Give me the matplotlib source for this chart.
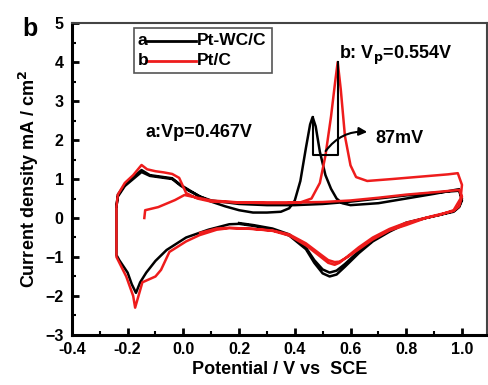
import matplotlib
matplotlib.use("Agg")
import matplotlib.pyplot as plt
from matplotlib.lines import Line2D
from matplotlib.patches import Rectangle
from matplotlib.ticker import MultipleLocator

plt.rcParams['font.family'] = ['Liberation Sans', 'DejaVu Sans']
plt.rcParams['font.weight'] = 'bold'

# Pt-WC/C (black) CV, potential (V vs SCE) and current density (mA/cm2)
black_E = [-0.24, -0.235, -0.21, -0.18, -0.15, -0.12, -0.08, -0.04, -0.01, 0.02, 0.06, 0.1, 0.15, 0.2, 0.25,
           0.3, 0.35, 0.38, 0.4, 0.42, 0.44, 0.455, 0.464, 0.475, 0.49, 0.51, 0.53, 0.55, 0.57, 0.6, 0.7, 0.8,
           0.9, 0.99, 1.0, 0.99, 0.97, 0.92, 0.87, 0.8, 0.74, 0.68, 0.63, 0.58, 0.55, 0.525, 0.5, 0.47, 0.44,
           0.38, 0.32, 0.25, 0.2, 0.165, 0.09, 0.01, -0.06, -0.1, -0.133, -0.155, -0.17, -0.185, -0.2, -0.23,
           -0.24, -0.24, -0.235, -0.21, -0.18, -0.15, -0.12, -0.08, -0.04, -0.01, 0.02, 0.06, 0.1, 0.2, 0.3,
           0.4, 0.5, 0.6, 0.7, 0.8, 0.9, 0.99, 1.0, 0.99, 0.97, 0.9, 0.8, 0.74, 0.68, 0.63, 0.58, 0.55, 0.525,
           0.5, 0.47, 0.44, 0.38, 0.32, 0.25, 0.2]
black_j = [0.3, 0.6, 0.85, 1.05, 1.23, 1.1, 1.06, 1.02, 0.85, 0.72, 0.55, 0.42, 0.3, 0.2, 0.14,
           0.14, 0.16, 0.25, 0.45, 0.95, 1.8, 2.4, 2.59, 2.35, 1.7, 1.1, 0.75, 0.5, 0.38, 0.33, 0.38, 0.5,
           0.62, 0.74, 0.5, 0.3, 0.18, 0.08, 0.0, -0.14, -0.35, -0.6, -0.9, -1.25, -1.45, -1.5, -1.42, -1.15, -0.8,
           -0.45, -0.3, -0.2, -0.15, -0.16, -0.3, -0.5, -0.82, -1.1, -1.4, -1.65, -1.92, -1.7, -1.4, -1.08,
           -0.95, 0.3, 0.55, 0.82, 1.0, 1.18, 1.08, 1.04, 1.0, 0.83, 0.7, 0.55, 0.45, 0.36, 0.33,
           0.33, 0.36, 0.42, 0.5, 0.58, 0.65, 0.7, 0.45, 0.28, 0.16, 0.05, -0.12, -0.32, -0.57, -0.85, -1.18, -1.35, -1.4,
           -1.32, -1.08, -0.76, -0.42, -0.27, -0.18, -0.13]

# Pt/C (red) CV
red_E = [-0.14, -0.137, -0.09, -0.03, 0.004, 0.03, 0.1, 0.2, 0.3, 0.37, 0.42, 0.46, 0.49, 0.51, 0.53, 0.545,
         0.554, 0.565, 0.58, 0.6, 0.62, 0.66, 0.75, 0.85, 0.95, 0.985, 1.0, 0.995, 0.97, 0.92, 0.87, 0.8,
         0.74, 0.68, 0.63, 0.59, 0.56, 0.543, 0.52, 0.49, 0.44, 0.38, 0.32, 0.25, 0.165, 0.12, 0.058, 0.01,
         -0.05, -0.08, -0.1, -0.147, -0.173, -0.18, -0.205, -0.24, -0.24, -0.24, -0.235, -0.21, -0.18, -0.15,
         -0.13, -0.1, -0.07, -0.04, -0.015, 0.01, 0.05, 0.1, 0.2, 0.3, 0.4, 0.5, 0.6, 0.7, 0.8, 0.9, 0.99, 1.0,
         0.99, 0.97, 0.9, 0.8, 0.74, 0.68, 0.63, 0.59, 0.56, 0.543, 0.52, 0.49, 0.44, 0.38, 0.32, 0.25, 0.165,
         0.12, 0.06]
red_j = [0.0, 0.2, 0.28, 0.46, 0.59, 0.55, 0.45, 0.4, 0.38, 0.38, 0.4, 0.5, 0.9, 1.6, 2.6, 3.5,
         4.0, 3.3, 2.1, 1.35, 1.05, 0.95, 1.0, 1.06, 1.12, 1.15, 0.85, 0.5, 0.2, 0.08, 0.0, -0.18,
         -0.32, -0.55, -0.8, -1.0, -1.12, -1.13, -1.08, -0.92, -0.65, -0.42, -0.32, -0.28, -0.26, -0.3, -0.44, -0.6,
         -0.87, -1.33, -1.5, -1.65, -2.3, -2.0, -1.5, -1.0, 0.0, 0.3, 0.6, 0.9, 1.1, 1.36,
         1.25, 1.2, 1.17, 1.13, 1.03, 0.64, 0.5, 0.42, 0.4, 0.4, 0.4, 0.41, 0.45, 0.52, 0.6, 0.66, 0.72, 0.55,
         0.3, 0.18, 0.06, -0.12, -0.28, -0.5, -0.75, -0.98, -1.15, -1.2, -1.15, -0.98, -0.7, -0.45, -0.33, -0.28, -0.25,
         -0.27, -0.38]

xticks = [-0.4, -0.2, 0.0, 0.2, 0.4, 0.6, 0.8, 1.0]
xticklabels = ['-0.4', '-0.2', '0.0', '0.2', '0.4', '0.6', '0.8', '1.0']
yticks = [-3, -2, -1, 0, 1, 2, 3, 4, 5]
legend_letters = ['a', 'b']
legend_names = ['Pt-WC/C', 'Pt/C']
colors = ['black', '#ee1c1c']

fig = plt.figure(figsize=(4.89, 3.85), dpi=100)
ax = fig.add_axes([0.147, 0.13, 0.849, 0.81])

ax.plot(black_E, black_j, color=colors[0], lw=1.8, solid_joinstyle='round')
ax.plot(red_E, red_j, color=colors[1], lw=1.8, solid_joinstyle='round')

ax.set_xlim(-0.4, 1.09)
ax.set_ylim(-3, 5)
ax.set_xticks(xticks)
ax.set_xticklabels(xticklabels)
ax.set_yticks(yticks)
ax.xaxis.set_minor_locator(MultipleLocator(0.1))
ax.yaxis.set_minor_locator(MultipleLocator(0.5))
ax.tick_params(which='major', direction='in', length=5, width=2, labelsize=11.5)
ax.tick_params(axis='x', which='major', pad=5)
ax.tick_params(axis='y', which='major', pad=6)
ax.tick_params(which='minor', direction='in', length=3, width=1.5)
for lab in ax.get_xticklabels() + ax.get_yticklabels():
    lab.set_fontweight('bold')
for side in ['left', 'bottom']:
    ax.spines[side].set_linewidth(2.2)
for side in ['top', 'right']:
    ax.spines[side].set_linewidth(1.5)
    ax.spines[side].set_color('#444444')

ax.set_xlabel('Potential / V vs  SCE', fontsize=13, fontweight='bold', labelpad=3)
ax.set_ylabel('Current density mA / cm$^\\mathbf{2}$', fontsize=13, fontweight='bold', labelpad=3)

# legend box drawn manually
lx0, ly0, lx1, ly1 = -0.176, 3.72, 0.32, 4.87
ax.add_patch(Rectangle((lx0, ly0), lx1 - lx0, ly1 - ly0, fill=False, edgecolor='#555555', lw=1.2, zorder=5))
for i, (let, name, c) in enumerate(zip(legend_letters, legend_names, colors)):
    yy = 4.55 - i * 0.52
    ax.text(-0.163, yy, let, fontsize=12.5, fontweight='bold', va='center', ha='left')
    ax.add_line(Line2D([-0.133, 0.045], [yy, yy], color=c, lw=2))
    ax.text(0.047, yy, name, fontsize=12.5, fontweight='bold', va='center', ha='left')

# annotations
ax.text(-0.137, 2.2, 'a:Vp=0.467V', fontsize=13, fontweight='bold', va='center', ha='left')
ax.text(0.557, 4.18, 'b: V$_\\mathbf{p}$=0.554V', fontsize=13, fontweight='bold', va='center', ha='left')
ax.text(0.69, 2.05, '87mV', fontsize=13, fontweight='bold', va='center', ha='left')
ax.plot([0.467, 0.467, 0.554, 0.554], [2.59, 1.62, 1.62, 4.0], color='black', lw=1.5)
ax.annotate('', xy=(0.67, 2.2), xytext=(0.505, 1.66),
            arrowprops=dict(arrowstyle='-|>', color='black', lw=1.5,
                            connectionstyle='arc3,rad=-0.3', mutation_scale=12))

fig.text(0.062, 0.925, 'b', fontsize=18, fontweight='bold', va='center', ha='center')

fig.savefig('out.png', dpi=100)
